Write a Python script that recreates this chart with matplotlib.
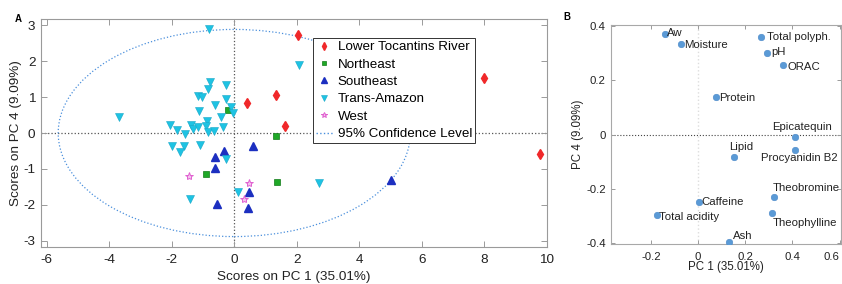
import matplotlib
matplotlib.use('Agg')
import matplotlib.pyplot as plt
from matplotlib.patches import Ellipse
from matplotlib.lines import Line2D
from matplotlib.ticker import FuncFormatter

plt.rcParams['font.family'] = ['Liberation Sans', 'DejaVu Sans']
plt.rcParams['axes.unicode_minus'] = False

# --------------------------
# DATOS: SCORES (panel A)
# --------------------------
lower_x = [0.42, 1.32, 2.03, 1.63, 8.00, 9.77]
lower_y = [0.84, 1.07, 2.73, 0.19, 1.54, -0.58]

northeast_x = [-0.19, 1.35, -0.91, 1.36]
northeast_y = [0.64, -0.08, -1.14, -1.35]

southeast_x = [0.60, -0.34, -0.63, -0.61, -0.55, 0.46, 0.43, 5.00]
southeast_y = [-0.35, -0.50, -0.66, -0.98, -1.97, -1.64, -2.08, -1.32]

trans_x = [-0.82, -0.79, -0.27, -0.85, -1.17, -1.02, -0.27, -0.63, -0.11, -1.14,
           -0.05, -3.67, -0.42, -0.87, -2.05, -1.38, -0.91, -1.83, -1.33, -1.17,
           -0.36, -1.59, -0.85, -0.65, -1.99, -1.62, -1.10, -1.73, -0.28, -1.43,
           0.13, 2.06, 2.70]
trans_y = [2.88, 1.43, 1.33, 1.21, 1.03, 0.99, 0.94, 0.78, 0.71, 0.62,
           0.56, 0.45, 0.44, 0.34, 0.21, 0.22, 0.19, 0.08, 0.11, 0.16,
           0.16, -0.04, 0.03, 0.06, -0.36, -0.36, -0.33, -0.53, -0.73, -1.84,
           -1.63, 1.89, -1.38]

west_x = [-1.45, 0.47, 0.32]
west_y = [-1.19, -1.40, -1.84]

# elipse 95% (semiejes)
ell_a = 5.63
ell_b = 2.88

# --------------------------
# DATOS: LOADINGS (panel B)
# --------------------------
load_names = ['Aw', 'Moisture', 'Total polyph.', 'pH', 'ORAC', 'Protein',
              'Epicatequin', 'Procyanidin B2', 'Lipid', 'Theobromine',
              'Theophylline', 'Caffeine', 'Total acidity', 'Ash']
load_x = [-0.139, -0.073, 0.266, 0.294, 0.362, 0.075,
          0.411, 0.411, 0.152, 0.321, 0.315, 0.004, -0.176, 0.131]
load_y = [0.371, 0.335, 0.359, 0.300, 0.256, 0.138,
          -0.007, -0.056, -0.083, -0.231, -0.287, -0.250, -0.296, -0.396]

# posiciones de las etiquetas (offset en puntos, ha)
label_pos = {
    'Aw': (1.5, 1, 'left'),
    'Moisture': (2, -1.2, 'left'),
    'Total polyph.': (4.7, 0, 'left'),
    'pH': (3, 1, 'left'),
    'ORAC': (3, -1, 'left'),
    'Protein': (2.2, -0.8, 'left'),
    'Epicatequin': (4.8, 7.2, 'center'),
    'Procyanidin B2': (3.2, -6, 'center'),
    'Lipid': (4.9, 7.6, 'center'),
    'Theobromine': (-0.7, 6.5, 'left'),
    'Theophylline': (0.5, -7.6, 'left'),
    'Caffeine': (2, 0.4, 'left'),
    'Total acidity': (1.7, -1.2, 'left'),
    'Ash': (2.7, 4.5, 'left'),
}

c_lower = '#f0282a'
c_ne = '#1fa827'
c_se = '#1c2fc0'
c_trans = '#1ec3e3'
c_west = '#e060d0'
c_ell = '#4a8fdc'
c_load = '#5a9ad6'
c_spine = '#9a9a9a'

fig = plt.figure(figsize=(8.42, 2.84), dpi=100)

# --------------------------
# PANEL A
# --------------------------
axA = fig.add_axes([41/842, 37/284, 506/842, 228/284])
axA.axhline(0, color='#555555', ls=':', lw=0.9, zorder=1)
axA.axvline(0, color='#555555', ls=':', lw=0.9, zorder=1)
axA.add_patch(Ellipse((0, 0), 2*ell_a, 2*ell_b, fill=False, ec=c_ell,
                      ls=':', lw=0.9, zorder=1))

axA.plot(lower_x, lower_y, 'd', color=c_lower, ms=5.5, mec=c_lower, label='Lower Tocantins River', zorder=3)
axA.plot(northeast_x, northeast_y, 's', color=c_ne, ms=4.2, mec='#127a18', mew=0.5, label='Northeast', zorder=3)
axA.plot(southeast_x, southeast_y, '^', color=c_se, ms=5.8, mec=c_se, label='Southeast', zorder=3)
axA.plot(trans_x, trans_y, 'v', color=c_trans, ms=6.3, mec='#18a8c8', mew=0.4, label='Trans-Amazon', zorder=3)
axA.plot(west_x, west_y, '*', color='#f4c0ee', ms=6, mec=c_west, mew=0.7, label='West', zorder=3)
ell_proxy = Line2D([], [], color=c_ell, ls=':', lw=1.0, label='95% Confidence Level')

handles, labels = axA.get_legend_handles_labels()
handles.append(ell_proxy)
leg = axA.legend(handles=handles, loc='upper left', bbox_to_anchor=(0.537, 0.917),
                 fontsize=9.6, frameon=True, fancybox=False, framealpha=1,
                 edgecolor='#333333', handlelength=1.3, handletextpad=0.35,
                 labelspacing=0.38, borderpad=0.22, markerscale=0.7,
                 borderaxespad=0)
leg.get_frame().set_linewidth(0.7)

axA.set_xlim(-6.18, 10)
axA.set_ylim(-3.17, 3.17)
axA.set_xticks([-6, -4, -2, 0, 2, 4, 6, 8, 10])
axA.set_yticks([-3, -2, -1, 0, 1, 2, 3])
axA.tick_params(direction='in', top=True, right=True, length=4, width=0.7,
                color=c_spine, labelsize=9.7, labelcolor='#222222', pad=5)
axA.tick_params(axis='y', pad=4)
for s in axA.spines.values():
    s.set_color(c_spine)
    s.set_linewidth(0.8)
axA.set_xlabel('Scores on PC 1 (35.01%)', fontsize=9.7, color='#222222')
axA.set_ylabel('Scores on PC 4 (9.09%)', fontsize=9.7, color='#222222')
axA.xaxis.label.set_va('center')
axA.yaxis.label.set_va('center')
axA.xaxis.set_label_coords(0.5, -0.13)
axA.yaxis.set_label_coords(-0.049, 0.5)
fig.text(18/842, 1 - 19/284, 'A', fontsize=7, fontweight='bold', ha='center', va='center')

# --------------------------
# PANEL B
# --------------------------
axB = fig.add_axes([610.7/842, 40/284, 230/842, 219/284])
axB.axhline(0, color='#444444', ls=':', lw=0.8, zorder=1)
axB.axvline(0, color='#dddddd', ls=':', lw=1.0, zorder=1)
axB.scatter(load_x, load_y, s=22, color=c_load, edgecolors='#4a88c8',
            linewidths=0.4, zorder=3)
for name, x, y in zip(load_names, load_x, load_y):
    dx, dy, ha = label_pos[name]
    axB.annotate(name, (x, y), xytext=(dx, dy), textcoords='offset points',
                 ha=ha, va='center', fontsize=8.2, color='#222222')

axB.set_xlim(-0.371, 0.605)
axB.set_ylim(-0.403, 0.404)
axB.set_xticks([-0.2, 0, 0.2, 0.4, 0.6])
axB.set_yticks([-0.4, -0.2, 0, 0.2, 0.4])
fmt = FuncFormatter(lambda v, p: ('%g' % round(v, 2)))
axB.xaxis.set_major_formatter(fmt)
axB.yaxis.set_major_formatter(fmt)
axB.tick_params(direction='in', top=True, right=True, length=3, width=0.7,
                color=c_spine, labelsize=8.2, labelcolor='#222222', pad=6)
axB.tick_params(axis='y', pad=3.5)
for s in axB.spines.values():
    s.set_color('#a8a8a8')
    s.set_linewidth(0.8)
fig.canvas.draw()
axB.get_xticklabels()[-1].set_ha('right')
axB.set_xlabel('PC 1 (35.01%)', fontsize=8.3, color='#222222')
axB.set_ylabel('PC 4 (9.09%)', fontsize=8.3, color='#222222')
axB.xaxis.label.set_va('center')
axB.yaxis.label.set_va('center')
axB.xaxis.set_label_coords(0.5, -0.104)
axB.yaxis.set_label_coords(-0.1415, 0.5)
fig.text(567/842, 1 - 16.7/284, 'B', fontsize=7, fontweight='bold', ha='center', va='center')

fig.savefig('out.png', dpi=100)
